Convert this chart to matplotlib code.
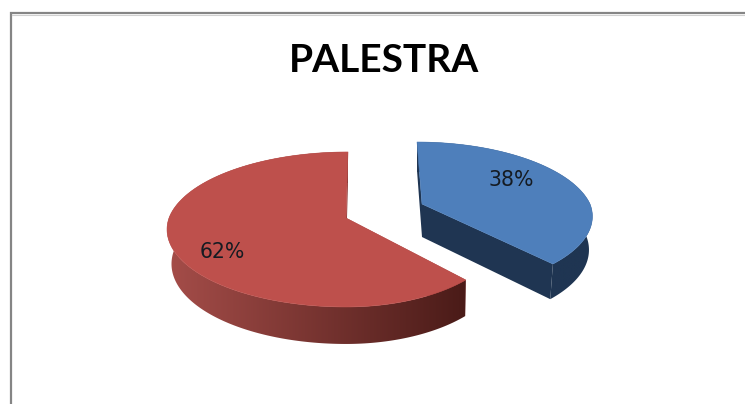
import numpy as np
import matplotlib
matplotlib.use("Agg")
import matplotlib.pyplot as plt
from matplotlib.colors import LinearSegmentedColormap
from matplotlib.patches import Polygon

title = "PALESTRA"
shares = [38, 62]

# slice styling and projection (perspective view of an exploded disc)
top_colors = ["#4E7FBB", "#BE504C"]
wall_colors = [("#1F3552", "#1F3552"), ("#A54D49", "#4A1B18")]
cut_colors = ["#1F3552", "#8A3A37"]
proj = [
    dict(cx=422, cy=204, rl=168, rr=168, s=72.3, p=0.1665, shear=-5.8, depth=33, sxl=0.98, sxr=0.98),
    dict(cx=346, cy=218, rl=177, rr=156, s=75.8, p=0.148, shear=2.3, depth=34, sxl=0.975, sxr=0.995),
]
label_xy = [(511.5, 180.5), (222, 251.5)]


def project(theta, q):
    u = np.sin(theta)
    v = np.cos(theta)
    w = 1 + q["p"] * v
    rad = np.where(u >= 0, q["rr"], q["rl"])
    x = q["cx"] + (rad * u + q["shear"] * np.maximum(v, 0)) / w
    y = q["cy"] - q["s"] * v / w
    return x, y


def lower(x, y, theta, q):
    v = np.cos(theta)
    sx = np.where(x >= q["cx"], q["sxr"], q["sxl"])
    return q["cx"] + (x - q["cx"]) * sx, y + q["depth"] - 3 * v


fig = plt.figure(figsize=(7.45, 4.04), dpi=100, facecolor="white")
ax = fig.add_axes([0, 0, 1, 1])
ax.axis("off")

# chart frame (left and top only)
ax.plot([10.5, 10.5, 745], [404, 13.2, 13.2], color="#858585", lw=1.6, solid_joinstyle="miter")
ax.plot([12, 745], [14.8, 14.8], color="#d0d0d0", lw=0.8)

edges = np.cumsum([0] + shares) / sum(shares) * 2 * np.pi

for i in [1, 0]:
    q = proj[i]
    th = np.linspace(edges[i], edges[i + 1], 240)
    xt, yt = project(th, q)
    xb, yb = lower(xt, yt, th, q)

    # straight cut walls
    apex_b = (q["cx"], q["cy"] + q["depth"])
    for k in [0, -1]:
        ax.fill([q["cx"], xt[k], xb[k], apex_b[0]], [q["cy"], yt[k], yb[k], apex_b[1]],
                color=cut_colors[i], lw=0, zorder=2)

    # curved wall: horizontal gradient clipped to the wall outline
    outline = np.column_stack([np.r_[xt, xb[::-1]], np.r_[yt, yb[::-1]]])
    clip = Polygon(outline, closed=True, transform=ax.transData, fc="none", ec="none")
    ax.add_patch(clip)
    cmap = LinearSegmentedColormap.from_list("wall", list(wall_colors[i]))
    x0, x1 = outline[:, 0].min(), outline[:, 0].max()
    y0, y1 = outline[:, 1].min(), outline[:, 1].max()
    grad = np.linspace(0, 1, 256)[None, :]
    im = ax.imshow(grad, extent=(x0, x1, y1, y0), cmap=cmap, aspect="auto", zorder=2,
                   interpolation="bilinear")
    im.set_clip_path(clip)

    # top face
    ax.fill(np.r_[q["cx"], xt], np.r_[q["cy"], yt], color=top_colors[i], lw=0.4, zorder=3)

for share, (lx, ly) in zip(shares, label_xy):
    ax.text(lx, ly, f"{share}%", ha="center", va="center", fontsize=14.8,
            family="DejaVu Sans", color="#151b22", zorder=5)

ax.text(384, 60, title, ha="center", va="center", fontsize=28, fontweight="bold",
        family="Lato", color="#000000")

ax.set_xlim(0, 745)
ax.set_ylim(404, 0)
fig.savefig("out.png", dpi=100, facecolor="white")
